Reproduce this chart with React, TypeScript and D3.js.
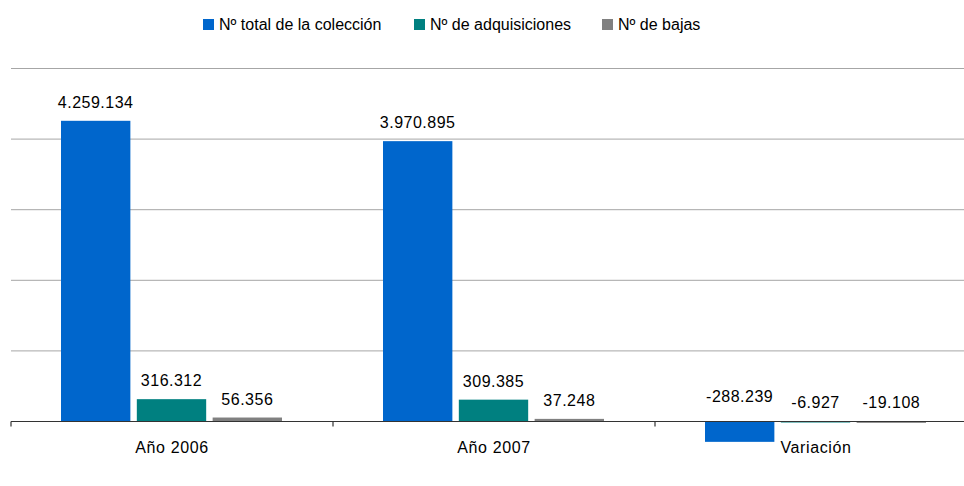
import React from "react";
import * as d3 from "d3";

const categories = ["Año 2006", "Año 2007", "Variación"];
const seriesNames = ["Nº total de la colección", "Nº de adquisiciones", "Nº de bajas"];
const totalColeccion = [4259134, 3970895, -288239];
const adquisiciones = [316312, 309385, -6927];
const bajas = [56356, 37248, -19108];
const yTicks = [1000000, 2000000, 3000000, 4000000, 5000000];

const colors = ["#0066CC", "#008080", "#808080"];
const legendX = [202, 413, 601];

const fmt = (v: number) => {
  const s = Math.abs(v).toString().replace(/\B(?=(\d{3})+(?!\d))/g, ".");
  return (v < 0 ? "-" : "") + s;
};

export default function App() {
  const W = 964, H = 486;
  const font = "'Liberation Sans', Arial, sans-serif";
  const values = [totalColeccion, adquisiciones, bajas];
  const x = d3.scaleBand<string>().domain(categories).range([11, 977]);
  const xs = d3.scaleBand<string>().domain(seriesNames).range([50, 271]).paddingInner(0.085);
  const y = d3.scaleLinear().domain([0, 5000000]).range([421.5, 68.5]);
  const y0 = y(0);

  return (
    <svg width={W} height={H} style={{ position: "absolute", left: 0, top: 0, background: "#fff" }} fontFamily={font}>
      <rect x={0} y={0} width={W} height={H} fill="#fff" />
      {yTicks.map((t) => (
        <line key={t} x1={11} x2={W} y1={y(t)} y2={y(t)} stroke="#a6a6a6" strokeWidth={1} />
      ))}
      {categories.map((c, ci) =>
        seriesNames.map((s, si) => {
          const v = values[si][ci];
          const bx = (x(c) as number) + (xs(s) as number);
          const top = Math.min(y(v), y0);
          const h = Math.max(Math.abs(y(v) - y0), 1);
          const labelY = v >= 0 ? y(v) - 13 : y0 - (Math.abs(v) > 100000 ? 20 : 14);
          return (
            <g key={c + s}>
              <rect x={bx} y={top} width={xs.bandwidth()} height={h} fill={colors[si]} />
              <text x={bx + xs.bandwidth() / 2} y={labelY} textAnchor="middle" fontSize={16} letterSpacing={0.5} fill="#000">
                {fmt(v)}
              </text>
            </g>
          );
        })
      )}
      <line x1={11} x2={W} y1={y0} y2={y0} stroke="#333" strokeWidth={1.2} />
      {categories.map((c) => (
        <line key={"t" + c} x1={x(c) as number} x2={x(c) as number} y1={y0} y2={y0 + 5} stroke="#333" strokeWidth={1.2} />
      ))}
      {categories.map((c) => (
        <text key={"l" + c} x={(x(c) as number) + x.bandwidth() / 2} y={452.5} textAnchor="middle" fontSize={16} letterSpacing={0.6} fill="#000">
          {c}
        </text>
      ))}
      {seriesNames.map((s, i) => (
        <g key={"lg" + s}>
          <rect x={legendX[i] + 1} y={19} width={11} height={11} fill={colors[i]} />
          <text x={legendX[i] + 17} y={29.5} fontSize={16} fill="#000">{s}</text>
        </g>
      ))}
    </svg>
  );
}
